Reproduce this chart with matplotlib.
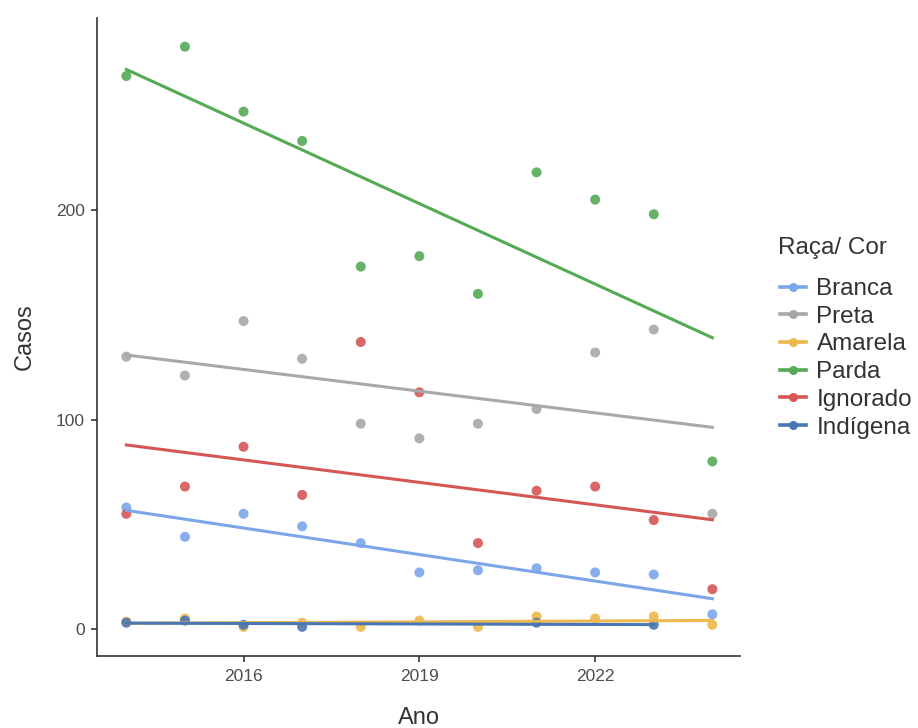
import numpy as np
import matplotlib
matplotlib.use("Agg")
import matplotlib.pyplot as plt
from matplotlib.lines import Line2D

plt.rcParams['font.family'] = ['Liberation Sans', 'DejaVu Sans']

years = [2014, 2015, 2016, 2017, 2018, 2019, 2020, 2021, 2022, 2023, 2024]
branca = [58, 44, 55, 49, 41, 27, 28, 29, 27, 26, 7]
preta = [130, 121, 147, 129, 98, 91, 98, 105, 132, 143, 55]
amarela = [3.5, 5, 1, 3, 1, 4, 1, 6, 5, 6, 2]
parda = [264, 278, 247, 233, 173, 178, 160, 218, 205, 198, 80]
ignorado = [55, 68, 87, 64, 137, 113, 41, 66, 68, 52, 19]
indigena_years = [2014, 2015, 2016, 2017, 2021, 2023]
indigena = [3, 4, 2, 1, 3, 2]

categories = ["Branca", "Preta", "Amarela", "Parda", "Ignorado", "Indígena"]
colors = ["#7BA7E9", "#A8A8A8", "#EDB84E", "#55AA55", "#D65656", "#4A76B4"]
series = [(years, branca), (years, preta), (years, amarela), (years, parda),
          (years, ignorado), (indigena_years, indigena)]

W, H = 918, 728
fig = plt.figure(figsize=(W / 100, H / 100), dpi=100)
ax = fig.add_axes([0.1057, 0.0989, 0.7003, 0.8761])

for (xs, ys), c in zip(series, colors):
    xs = np.array(xs, float); ys = np.array(ys, float)
    ax.scatter(xs, ys, s=52, color=c, alpha=0.9, edgecolors='none', zorder=2)
    m, b = np.polyfit(xs, ys, 1)
    xl = np.array([xs.min(), xs.max()])
    ax.plot(xl, m * xl + b, color=c, lw=2.2, zorder=3)

ax.set_xlim(2013.5, 2024.47)
ax.set_ylim(-12.9, 291.6)
ax.set_xticks([2016, 2019, 2022])
ax.set_yticks([0, 100, 200])
for s in ['top', 'right']:
    ax.spines[s].set_visible(False)
for s in ['left', 'bottom']:
    ax.spines[s].set_color('#333333')
    ax.spines[s].set_linewidth(1.2)
ax.tick_params(colors='#333333', labelcolor='#4D4D4D', labelsize=12.5,
               length=4, width=1.2, pad=5)
ax.set_xlabel("Ano", fontsize=17, color='#333333', labelpad=17)
ax.set_ylabel("Casos", fontsize=17, color='#333333', labelpad=14)

fig.text(778 / W, 1 - 248 / H, "Raça/ Cor", fontsize=17.5, color='#333333',
         ha='left', va='center')
handles = [Line2D([0], [0], color=c, lw=2.6, marker='o', markersize=6.5,
                  markeredgecolor='none') for c in colors]
leg = fig.legend(handles, categories, loc='upper left',
                 bbox_to_anchor=(780 / W, 1 - 278 / H), frameon=False,
                 fontsize=17.5, handlelength=1.05, handletextpad=0.45,
                 labelspacing=0.235, borderpad=0, borderaxespad=0)
for t in leg.get_texts():
    t.set_color('#333333')

fig.savefig("out.png", dpi=100)
